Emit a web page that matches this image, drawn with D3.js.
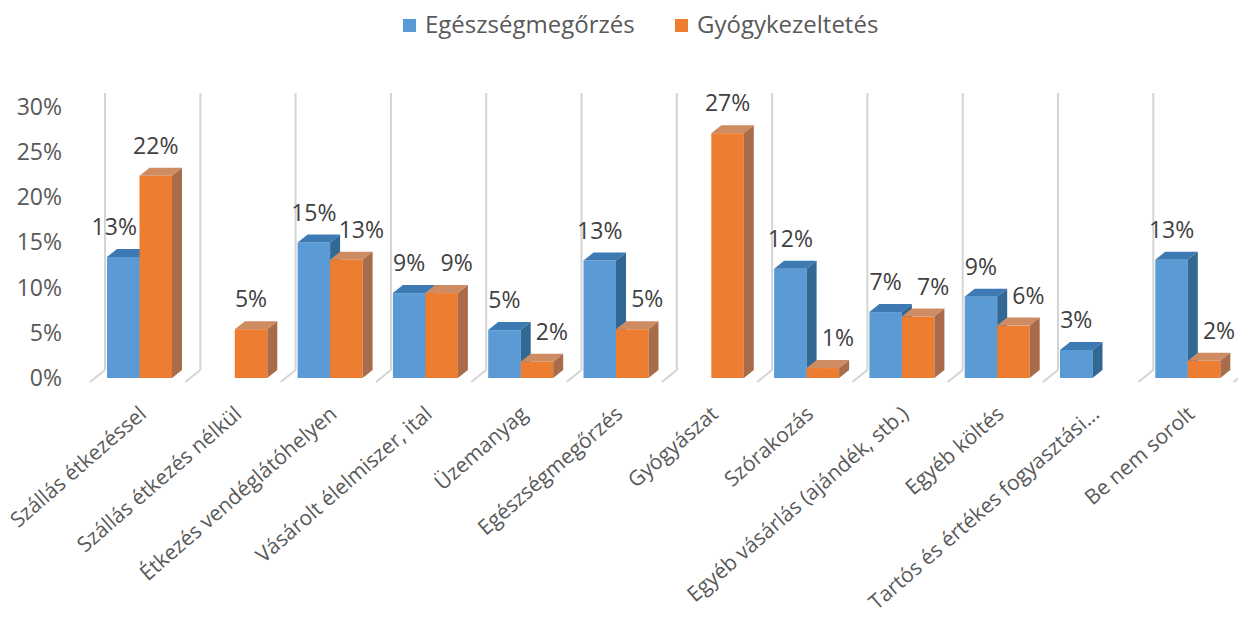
<!DOCTYPE html>
<html>
<head>
<meta charset="utf-8">
<script src="https://cdn.jsdelivr.net/npm/d3@7"></script>
<style>
  body { margin: 0; background: #fff; }
  text { font-family: 'Open Sans', sans-serif; }
</style>
</head>
<body>
<svg width="1238" height="619"></svg>
<script>
// --- Data ---
const categories = [
  'Szállás étkezéssel',
  'Szállás étkezés nélkül',
  'Étkezés vendéglátóhelyen',
  'Vásárolt élelmiszer, ital',
  'Üzemanyag',
  'Egészségmegőrzés',
  'Gyógyászat',
  'Szórakozás',
  'Egyéb vásárlás (ajándék, stb.)',
  'Egyéb költés',
  'Tartós és értékes fogyasztási...',
  'Be nem sorolt'
];
const seriesNames = ['Egészségmegőrzés', 'Gyógykezeltetés'];
const egeszsegmegorzes = [13.4, null, 15.0, 9.4, 5.3, 13.0, null, 12.1, 7.3, 9.0, 3.1, 13.1];
const gyogykezeltetes  = [22.4, 5.4, 13.1, 9.4, 1.8, 5.4, 27.1, 1.1, 6.8, 5.8, null, 1.9];
const yTicks = [0, 5, 10, 15, 20, 25, 30];

const svg = d3.select('svg');

// --- Scales ---
const x = d3.scaleBand().domain(categories).range([105, 105 + 12 * 95.3]);
const y = d3.scaleLinear().domain([0, 30]).range([378, 107]);

const barW = 32.5;
const depthX = 10, depthY = -8;

const colors = [
  { front: '#5b9bd5', top: '#3d7ab3', side: '#326894' },
  { front: '#ed7d31', top: '#cf8c63', side: '#a86c4a' }
];

// --- Legend ---
const legendItems = [
  { name: seriesNames[0], x: 403, c: colors[0].front },
  { name: seriesNames[1], x: 675, c: colors[1].front }
];
const legend = svg.append('g');
legendItems.forEach(d => {
  legend.append('rect')
    .attr('x', d.x).attr('y', 19)
    .attr('width', 13).attr('height', 13)
    .attr('fill', d.c);
  legend.append('text')
    .attr('x', d.x + 22).attr('y', 33)
    .attr('font-size', 24)
    .attr('fill', '#595959')
    .text(d.name);
});

// --- Back wall gridlines + floor lines ---
const grid = svg.append('g');
d3.range(categories.length + 1).forEach(i => {
  const gx = x.range()[0] + i * x.step();
  grid.append('line')
    .attr('x1', gx).attr('x2', gx)
    .attr('y1', 93).attr('y2', 370)
    .attr('stroke', '#d4d4d4').attr('stroke-width', 2);
  grid.append('line')
    .attr('x1', gx).attr('y1', 370)
    .attr('x2', gx - 15).attr('y2', 382)
    .attr('stroke', '#d4d4d4').attr('stroke-width', 2);
});

// --- Y axis ---
const yAxis = svg.append('g')
  .attr('transform', 'translate(62,0)')
  .call(d3.axisLeft(y).tickValues(yTicks).tickFormat(d => d + '%').tickSize(0).tickPadding(0));
yAxis.select('.domain').remove();
yAxis.selectAll('text')
  .attr('font-size', 23)
  .attr('font-family', "'Open Sans', sans-serif")
  .attr('fill', '#595959');

// --- 3D bars ---
const bars = svg.append('g');
const labels = svg.append('g');
const series = [egeszsegmegorzes, gyogykezeltetes];

categories.forEach((cat, i) => {
  series.forEach((vals, s) => {
    const v = vals[i];
    if (v == null) return;
    const xb = x(cat) + 2 + s * barW;
    const top = y(v), bottom = y(0);
    const c = colors[s];
    bars.append('rect')
      .attr('x', xb).attr('y', top)
      .attr('width', barW).attr('height', bottom - top)
      .attr('fill', c.front);
    bars.append('polygon')
      .attr('points', [[xb, top], [xb + depthX, top + depthY], [xb + barW + depthX, top + depthY], [xb + barW, top]].join(' '))
      .attr('fill', c.top);
    bars.append('polygon')
      .attr('points', [[xb + barW, top], [xb + barW + depthX, top + depthY], [xb + barW + depthX, bottom + depthY], [xb + barW, bottom]].join(' '))
      .attr('fill', c.side);

    // label nudges, as the chart tool moves them off neighbouring bars
    const other = series[1 - s][i] || 0;
    let dx = 0;
    if (s === 0 && other > v + 5) dx = -9;
    if (s === 1 && other >= v) dx = 15;
    labels.append('text')
      .attr('x', xb + barW / 2 + dx)
      .attr('y', top - 30)
      .attr('dy', '0.35em')
      .attr('text-anchor', 'middle')
      .attr('font-size', 23)
      .attr('fill', '#404040')
      .text(Math.round(v) + '%');
  });
});

// --- Category labels ---
const catLabels = svg.append('g');
categories.forEach(cat => {
  catLabels.append('text')
    .attr('transform', `translate(${x(cat) + x.bandwidth() / 2 - 5},416) rotate(-41)`)
    .attr('text-anchor', 'end')
    .attr('font-size', 21)
    .attr('fill', '#595959')
    .text(cat);
});
</script>
</body>
</html>
